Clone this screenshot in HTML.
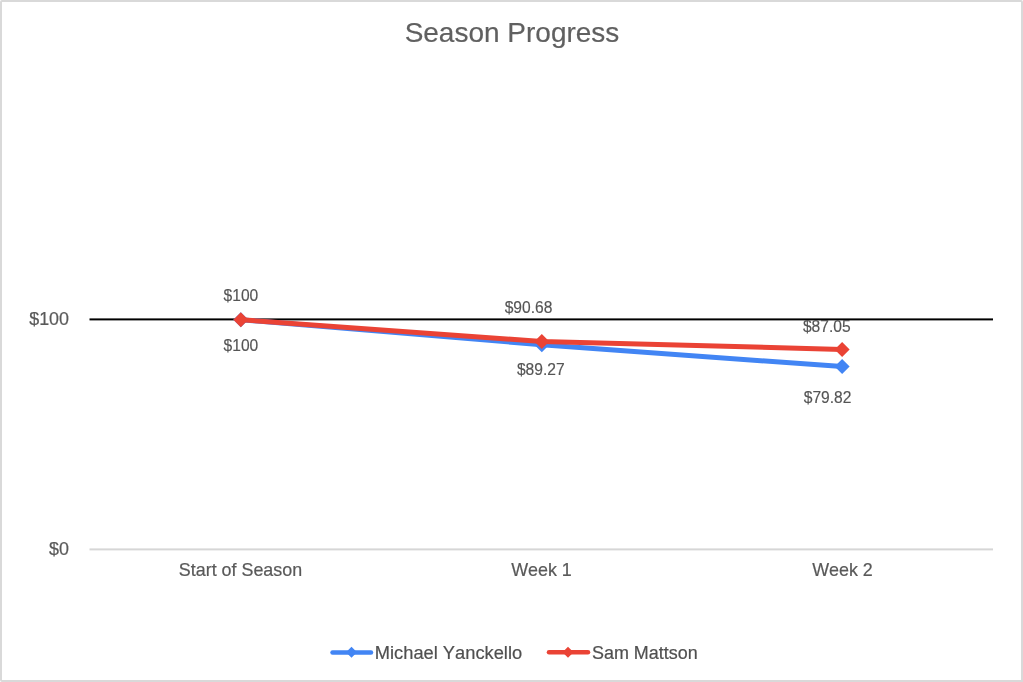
<!DOCTYPE html>
<html>
<head>
<meta charset="utf-8">
<title>Season Progress</title>
<style>
html,body{margin:0;padding:0;background:#fff;}
body{width:1023px;height:682px;overflow:hidden;position:relative;font-family:"Liberation Sans",Arial,sans-serif;}
#frame{position:absolute;left:0;top:0;width:1019px;height:678px;border:2px solid #d9d9d9;border-radius:2px 2px 0 2px;background:#fff;}
svg{position:absolute;left:0;top:0;}
text{font-family:"Liberation Sans",Arial,sans-serif;font-kerning:none;}
.title{font-size:27.3px;fill:#606060;stroke:#606060;stroke-width:0.18px;}
.axis{font-size:17.9px;fill:#595959;stroke:#595959;stroke-width:0.2px;}
.dl{font-size:15.6px;fill:#555555;stroke:#555555;stroke-width:0.15px;}
.leg{font-size:18.3px;fill:#505050;stroke:#505050;stroke-width:0.2px;}
</style>
</head>
<body>
<div id="frame"></div>
<svg width="1023" height="682" viewBox="0 0 1023 682">
  <!-- title -->
  <text class="title" transform="translate(512 42) scale(1.026 1)" text-anchor="middle">Season Progress</text>

  <!-- gridlines -->
  <rect x="89.5" y="548.4" width="903.5" height="2" fill="#d6d6d6"/>
  <rect x="89.5" y="318.4" width="903.5" height="2" fill="#000000"/>

  <!-- y axis labels -->
  <text class="axis" x="69" y="325" text-anchor="end">$100</text>
  <text class="axis" x="69" y="555" text-anchor="end">$0</text>

  <!-- x axis labels -->
  <text class="axis" x="240.5" y="576" text-anchor="middle">Start of Season</text>
  <text class="axis" x="541.5" y="576" text-anchor="middle">Week 1</text>
  <text class="axis" x="842.5" y="576" text-anchor="middle">Week 2</text>

  <!-- series: blue -->
  <polyline points="240.8,319.7 541.8,344.7 842.1,366.6" fill="none" stroke="#4285f4" stroke-width="5" stroke-linejoin="round"/>
  <g fill="#4285f4">
    <path d="M240.8 312.20 l7.5 7.5 l-7.5 7.5 l-7.5 -7.5z"/>
    <path d="M541.8 337.20 l7.5 7.5 l-7.5 7.5 l-7.5 -7.5z"/>
    <path d="M842.1 359.10 l7.5 7.5 l-7.5 7.5 l-7.5 -7.5z"/>
  </g>
  <!-- series: red -->
  <polyline points="240.8,319.7 541.8,341.5 842.1,349.4" fill="none" stroke="#ea4335" stroke-width="5" stroke-linejoin="round"/>
  <g fill="#ea4335">
    <path d="M240.8 312.20 l7.5 7.5 l-7.5 7.5 l-7.5 -7.5z"/>
    <path d="M541.8 334.00 l7.5 7.5 l-7.5 7.5 l-7.5 -7.5z"/>
    <path d="M842.1 341.90 l7.5 7.5 l-7.5 7.5 l-7.5 -7.5z"/>
  </g>
  <!-- data labels -->
  <text class="dl" x="240.9" y="301" text-anchor="middle">$100</text>
  <text class="dl" x="240.9" y="350.5" text-anchor="middle">$100</text>
  <text class="dl" x="528.5" y="313" text-anchor="middle">$90.68</text>
  <text class="dl" x="540.8" y="375" text-anchor="middle">$89.27</text>
  <text class="dl" x="826.8" y="332" text-anchor="middle">$87.05</text>
  <text class="dl" x="827.6" y="403" text-anchor="middle">$79.82</text>

  <!-- legend -->
  <line x1="332.5" y1="652.4" x2="371" y2="652.4" stroke="#4285f4" stroke-width="4.5" stroke-linecap="round"/>
  <path d="M351.5 646.8 l5.5 5.5 l-5.5 5.5 l-5.5 -5.5z" fill="#4285f4"/>
  <text class="leg" x="374.8" y="658.5">Michael Yanckello</text>
  <line x1="549" y1="652.3" x2="588" y2="652.3" stroke="#ea4335" stroke-width="4.5" stroke-linecap="round"/>
  <path d="M568 646.8 l5.5 5.5 l-5.5 5.5 l-5.5 -5.5z" fill="#ea4335"/>
  <text class="leg" x="592" y="658.5" style="font-size:17.95px">Sam Mattson</text>
</svg>
</body>
</html>
